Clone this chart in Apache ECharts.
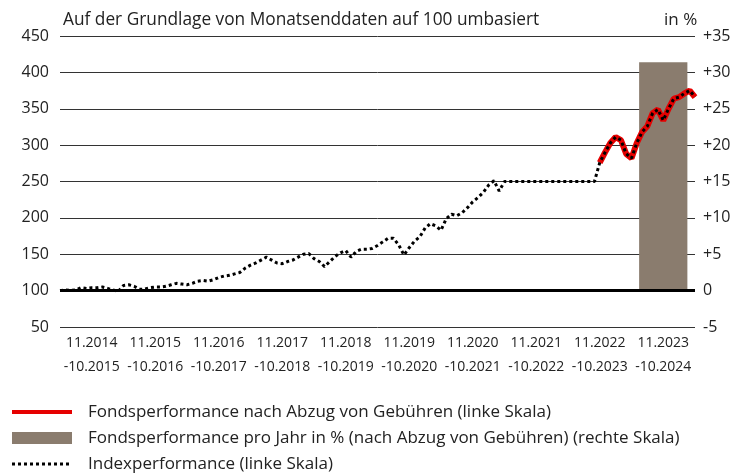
<!DOCTYPE html>
<html>
<head>
<meta charset="utf-8">
<script src="https://cdn.jsdelivr.net/npm/echarts@6/dist/echarts.min.js"></script>
<style>
html,body{margin:0;padding:0;background:#fff;}
#c{width:742px;height:475px;}
</style>
</head>
<body>
<div id="c"></div>
<script>
// Period categories (bars / x-axis labels)
const periodLabels = [
  '11.2014\n-10.2015','11.2015\n-10.2016','11.2016\n-10.2017','11.2017\n-10.2018','11.2018\n-10.2019',
  '11.2019\n-10.2020','11.2020\n-10.2021','11.2021\n-10.2022','11.2022\n-10.2023','11.2023\n-10.2024'
];
// Fund performance per year in % (right scale)
const annualPerf = [null, null, null, null, null, null, null, null, null, 31.4];

// Monthly index performance (left scale), 10.2014 .. 10.2024
const indexValues = [
  100,101,100.5,101,104,103,104,104,105,103,101,99,
  107,108,106,102,102,104,105,105,106,108,110,109,
  108,110,113,114,113,115,118,120,121,123,125,131,
  135,138,142,146,142,138,137,140,142,146,150,151,
  144,140,133,140,147,152,155,146,154,157,157,158,
  162,167,172,172,163,149,159,168,174,186,192,189,
  183,199,205,203,207,214,222,228,235,245,251,237,
  250,250,250,250,250,250,250,250,250,250,250,250,
  250,250,250,250,250,250,276,290,303,311,307,288,
  282,303,318,326,344,349,334,350,364,366,371,375,
  366
];
// Monthly fund performance (left scale), starts at month index 102
const fundStart = 102;
const fundValues = [276,290,303,311,307,288,282,303,318,326,344,349,334,350,364,366,371,375,366];

const leftTicks = {min: 50, max: 450, interval: 50};
const rightTicks = {min: -5, max: 35, interval: 5};

// month labels
const monthLabels = indexValues.map((v, i) => {
  const m = (9 + i) % 12 + 1;
  const y = 2014 + Math.floor((9 + i) / 12);
  return (m < 10 ? '0' + m : '' + m) + '.' + y;
});
const fundData = indexValues.map((v, i) => i >= fundStart ? fundValues[i - fundStart] : null);

const FONT = '"Open Sans", sans-serif';
const TXT = '#222';
const chart = echarts.init(document.getElementById('c'), null, {renderer: 'canvas'});
chart.setOption({
  animation: false,
  grid: {left: 60, right: 47, top: 36, bottom: 148},
  xAxis: [
    {type: 'category', data: periodLabels, boundaryGap: true,
     axisLine: {show: false}, axisTick: {show: false}, splitLine: {show: false},
     axisLabel: {fontFamily: FONT, fontSize: 14, color: TXT, margin: 4, lineHeight: 24, interval: 0}},
    {type: 'category', data: monthLabels, boundaryGap: false, show: false}
  ],
  yAxis: [
    {type: 'value', position: 'left', min: leftTicks.min, max: leftTicks.max, interval: leftTicks.interval,
     axisLine: {show: false}, axisTick: {show: false},
     axisLabel: {fontFamily: FONT, fontSize: 16, color: TXT, margin: 11},
     splitLine: {show: true, lineStyle: {color: '#333', width: 1}}},
    {type: 'value', position: 'right', min: rightTicks.min, max: rightTicks.max, interval: rightTicks.interval,
     axisLine: {show: false}, axisTick: {show: false}, splitLine: {show: false},
     axisLabel: {fontFamily: FONT, fontSize: 16, color: TXT, margin: 8,
       formatter: v => v > 0 ? '+' + v : '' + v}}
  ],
  series: [
    {type: 'bar', name: 'Fondsperformance pro Jahr in %', xAxisIndex: 0, yAxisIndex: 1,
     data: annualPerf, barWidth: '76%', itemStyle: {color: '#8a7c6e'}, z: 2},
    {type: 'line', name: 'Fondsperformance', xAxisIndex: 1, yAxisIndex: 0, data: fundData,
     showSymbol: false, symbol: 'none', lineStyle: {color: '#e60000', width: 6}, z: 3,
     markLine: {silent: true, symbol: 'none', label: {show: false},
       lineStyle: {color: '#000', width: 3, type: 'solid'}, data: [{yAxis: 100}]}},
    {type: 'line', name: 'Indexperformance', xAxisIndex: 1, yAxisIndex: 0, data: indexValues,
     showSymbol: false, symbol: 'none', lineStyle: {color: '#000', width: 3, type: [3, 3]}, z: 4}
  ],
  graphic: [
    {type: 'text', x: 63, y: 20, style: {text: 'Auf der Grundlage von Monatsenddaten auf 100 umbasiert', font: '17.3px ' + FONT, fill: TXT, verticalAlign: 'middle'}},
    {type: 'text', x: 664, y: 20, style: {text: 'in %', font: '17px ' + FONT, fill: TXT, verticalAlign: 'middle'}},
    {type: 'line', shape: {x1: 12, y1: 412, x2: 72, y2: 412}, style: {stroke: '#e60000', lineWidth: 4}},
    {type: 'text', x: 88, y: 412, style: {text: 'Fondsperformance nach Abzug von Gebühren (linke Skala)', font: '17px ' + FONT, fill: TXT, verticalAlign: 'middle'}},
    {type: 'rect', shape: {x: 12, y: 432, width: 60, height: 12}, style: {fill: '#8a7c6e'}},
    {type: 'text', x: 88, y: 438, style: {text: 'Fondsperformance pro Jahr in % (nach Abzug von Gebühren) (rechte Skala)', font: '17px ' + FONT, fill: TXT, verticalAlign: 'middle'}},
    {type: 'line', shape: {x1: 12, y1: 464, x2: 72, y2: 464}, style: {stroke: '#000', lineWidth: 3, lineDash: [3, 3]}},
    {type: 'text', x: 88, y: 464, style: {text: 'Indexperformance (linke Skala)', font: '17px ' + FONT, fill: TXT, verticalAlign: 'middle'}}
  ]
});
</script>
</body>
</html>
